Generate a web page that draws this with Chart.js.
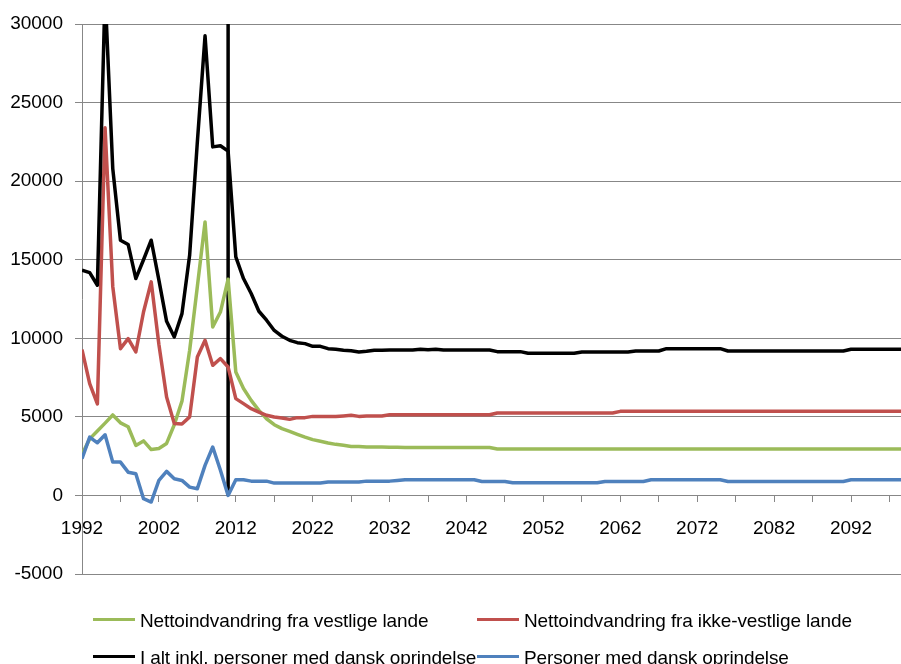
<!DOCTYPE html>
<html>
<head>
<meta charset="utf-8">
<script src="https://cdn.jsdelivr.net/npm/chart.js@4.4.1/dist/chart.umd.min.js"></script>
<style>
  html, body { margin: 0; padding: 0; background: #ffffff; }
  #wrap { position: relative; width: 901px; height: 664px; overflow: hidden; background: #fff; }
  #c { position: absolute; left: 0; top: 0; }
  .lg { position: absolute; display: flex; align-items: center; height: 22px;
        font: 19px "Liberation Sans", Arial, sans-serif; color: #000; white-space: nowrap;
        letter-spacing: -0.12px; }
  .lg i { display: inline-block; width: 42px; height: 3px; margin-right: 5px; position: relative; top: -1px; }
  .lg span { position: relative; top: 0.5px; }
</style>
</head>
<body>
<div id="wrap">
  <canvas id="c" width="901" height="664"></canvas>
  <div id="legend"></div>
</div>
<script>
// ---------- data ----------
const years = [
  1992,1993,1994,1995,1996,1997,1998,1999,2000,2001,
  2002,2003,2004,2005,2006,2007,2008,2009,2010,2011,
  2012,2013,2014,2015,2016,2017,2018,2019,2020,2021,
  2022,2023,2024,2025,2026,2027,2028,2029,2030,2031,
  2032,2033,2034,2035,2036,2037,2038,2039,2040,2041,
  2042,2043,2044,2045,2046,2047,2048,2049,2050,2051,
  2052,2053,2054,2055,2056,2057,2058,2059,2060,2061,
  2062,2063,2064,2065,2066,2067,2068,2069,2070,2071,
  2072,2073,2074,2075,2076,2077,2078,2079,2080,2081,
  2082,2083,2084,2085,2086,2087,2088,2089,2090,2091,
  2092,2093,2094,2095,2096,2097,2098,2099,2100
];

const vestlige = [
  2600,3600,4100,4600,5120,4620,4370,3180,3470,2920,
  2990,3310,4500,6000,9240,13300,17400,10720,11670,13760,
  7850,6800,6050,5410,4880,4500,4250,4080,3890,3710,
  3550,3450,3340,3250,3190,3120,3120,3080,3080,3080,
  3070,3060,3050,3050,3050,3050,3050,3050,3050,3050,
  3050,3050,3050,3050,2960,2960,2960,2960,2960,2960,
  2960,2960,2960,2960,2960,2960,2960,2960,2960,2960,
  2960,2960,2960,2960,2960,2960,2960,2960,2960,2960,
  2960,2960,2960,2960,2960,2960,2960,2960,2960,2960,
  2960,2960,2960,2960,2960,2960,2960,2960,2960,2960,
  2960,2960,2960,2960,2960,2960,2960,2960,2960
];

const ikkeVestlige = [
  9280,7110,5820,23400,13300,9340,9980,9130,11670,13590,
  9600,6260,4570,4550,5000,8810,9870,8280,8710,8170,
  6160,5840,5520,5300,5100,4990,4930,4840,4950,4950,
  5030,5030,5030,5030,5060,5100,5030,5060,5060,5060,
  5130,5130,5130,5130,5130,5130,5130,5130,5130,5130,
  5130,5130,5130,5130,5250,5250,5250,5250,5250,5250,
  5250,5250,5250,5250,5250,5250,5250,5250,5250,5250,
  5350,5350,5350,5350,5350,5350,5350,5350,5350,5350,
  5350,5350,5350,5350,5350,5350,5350,5350,5350,5350,
  5350,5350,5350,5350,5350,5350,5350,5350,5350,5350,
  5350,5350,5350,5350,5350,5350,5350,5350,5350
];

const iAlt = [
  14330,14180,13375,32000,20800,16240,15970,13800,15000,16240,
  13700,11080,10080,11570,15300,22500,29250,22180,22250,21910,
  15180,13800,12850,11720,11150,10500,10130,9870,9720,9660,
  9490,9490,9340,9300,9235,9200,9130,9170,9235,9235,
  9250,9250,9250,9250,9300,9270,9300,9250,9250,9250,
  9250,9250,9250,9250,9150,9150,9150,9150,9050,9050,
  9050,9050,9050,9050,9050,9130,9130,9130,9130,9130,
  9130,9130,9190,9190,9190,9190,9340,9340,9340,9340,
  9340,9340,9340,9340,9190,9190,9190,9190,9190,9190,
  9190,9190,9190,9190,9190,9190,9190,9190,9190,9190,
  9300,9300,9300,9300,9300,9300,9300,9300,9300
];

const danskOprindelse = [
  2340,3710,3350,3860,2120,2120,1480,1380,-210,-420,
  955,1530,1060,955,530,430,1910,3080,1600,0,
  1000,1000,910,910,910,785,785,785,785,785,
  785,785,850,850,850,850,850,910,910,910,
  910,955,1000,1000,1000,1000,1000,1000,1000,1000,
  1000,1000,890,890,890,890,810,810,810,810,
  810,810,810,810,810,810,810,810,890,890,
  890,890,890,890,1000,1000,1000,1000,1000,1000,
  1000,1000,1000,1000,890,890,890,890,890,890,
  890,890,890,890,890,890,890,890,890,890,
  1000,1000,1000,1000,1000,1000,1000,1000,1000
];

const seriesNames = [
  "Nettoindvandring fra vestlige lande",
  "Nettoindvandring fra ikke-vestlige lande",
  "I alt inkl. personer med dansk oprindelse",
  "Personer med dansk oprindelse"
];

const markerYear = 2011;
const markerValues = [0, 30000];

const xTickYears = [1992,1997,2002,2007,2012,2017,2022,2027,2032,2037,2042,2047,2052,2057,2062,2067,2072,2077,2082,2087,2092,2097];
const xLabelYears = [1992,2002,2012,2022,2032,2042,2052,2062,2072,2082,2092];
const yMin = -5000, yMax = 30000, yStep = 5000;

// ---------- chart ----------
const FONT = '"Liberation Sans", Arial, sans-serif';
const GRID = '#878787';
Chart.defaults.font.family = FONT;
Chart.defaults.font.size = 19;
Chart.defaults.color = '#000';

const toXY = arr => years.map((yr, i) => ({ x: yr, y: arr[i] }));
const lineDs = (label, arr, color, order) => ({
  label, data: toXY(arr), borderColor: color, backgroundColor: color,
  borderWidth: 3.5, pointRadius: 0, tension: 0, fill: false, clip: 0,
  borderJoinStyle: 'round', borderCapStyle: 'butt', order, inLegend: true
});

const datasets = [
  lineDs(seriesNames[0], vestlige, '#9BBB59', 4),
  lineDs(seriesNames[1], ikkeVestlige, '#C0504D', 3),
  lineDs(seriesNames[2], iAlt, '#000000', 2),
  lineDs(seriesNames[3], danskOprindelse, '#4F81BD', 1),
  {
    label: 'marker', data: markerValues.map(v => ({ x: markerYear, y: v })),
    borderColor: '#000', borderWidth: 3.5, pointRadius: 0, fill: false, clip: 0,
    borderCapStyle: 'butt', order: 5, inLegend: false
  }
];

const htmlLegend = {
  id: 'htmlLegend',
  afterUpdate(chart) {
    const box = document.getElementById('legend');
    box.innerHTML = '';
    const slots = [[93, 609.5], [477, 609.5], [93, 646], [477, 646]];
    let k = 0;
    chart.data.datasets.forEach(ds => {
      if (!ds.inLegend) return;
      const [l, t] = slots[k++];
      const item = document.createElement('div');
      item.className = 'lg';
      item.style.left = l + 'px';
      item.style.top = t + 'px';
      const sw = document.createElement('i');
      sw.style.background = ds.borderColor;
      const tx = document.createElement('span');
      tx.textContent = ds.label;
      item.appendChild(sw); item.appendChild(tx);
      box.appendChild(item);
    });
  }
};

new Chart(document.getElementById('c'), {
  type: 'line',
  data: { datasets },
  options: {
    responsive: false,
    animation: false,
    events: [],
    layout: { padding: { top: 24, bottom: 90, left: 0, right: 0 } },
    plugins: { legend: { display: false }, tooltip: { enabled: false } },
    scales: {
      x: {
        type: 'linear',
        position: { y: 0 },
        min: 1992,
        max: 2098.5,
        afterBuildTicks: s => { s.ticks = xTickYears.map(v => ({ value: v })); },
        afterFit: s => { s.paddingLeft = 0; s.paddingRight = 0; },
        ticks: {
          autoSkip: false, maxRotation: 0, minRotation: 0, padding: 16,
          color: '#000', font: { size: 19, family: FONT },
          callback: v => xLabelYears.includes(v) ? String(v) : ''
        },
        grid: { drawOnChartArea: false, drawTicks: true, tickLength: 6, color: GRID, lineWidth: 1 },
        border: { display: true, color: GRID, width: 1 }
      },
      y: {
        min: yMin, max: yMax,
        afterFit: s => { s.width = 82; s.paddingTop = 0; s.paddingBottom = 0; },
        ticks: {
          stepSize: yStep, padding: 12, color: '#000', font: { size: 19, family: FONT },
          callback: v => String(v)
        },
        grid: { color: GRID, lineWidth: 1, tickLength: 7, drawTicks: true },
        border: { display: true, color: GRID, width: 1 }
      }
    }
  },
  plugins: [htmlLegend]
});
</script>
</body>
</html>
